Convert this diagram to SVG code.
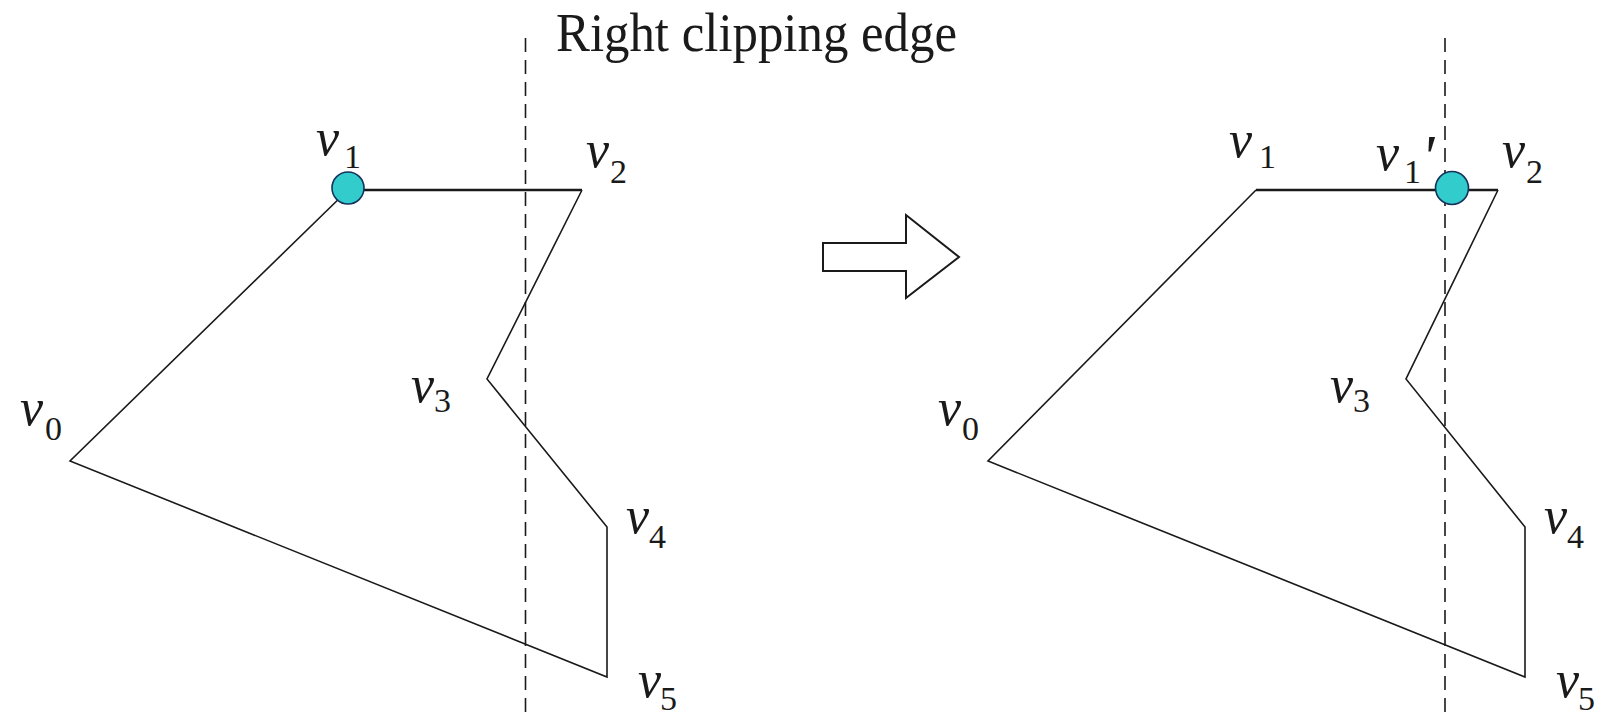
<svg xmlns="http://www.w3.org/2000/svg" width="1610" height="718" viewBox="0 0 1610 718">
<style>
.poly{fill:none;stroke:#1a1a1a;stroke-width:1.6;stroke-linejoin:miter}
.top{fill:none;stroke:#1a1a1a;stroke-width:2.4}
.clip{fill:none;stroke:#1a1a1a;stroke-width:1.6;stroke-dasharray:14 8}
.pt{fill:#33CCCC;stroke:#16325C;stroke-width:1.6}
.v{font-family:"Liberation Serif","Times New Roman",serif;font-style:italic;font-size:52px;fill:#1a1a1a}
.s{font-family:"Liberation Serif","Times New Roman",serif;font-style:normal;font-size:34px;fill:#1a1a1a}
.p{font-family:"Liberation Serif","Times New Roman",serif;font-style:italic;font-size:62px;fill:#1a1a1a}
.title{font-family:"Liberation Serif","Times New Roman",serif;font-size:55px;fill:#1a1a1a}
</style>
<rect width="1610" height="718" fill="#ffffff"/>
<g id="title">
<text class="title" x="556" y="51" textLength="401" lengthAdjust="spacingAndGlyphs">Right clipping edge</text>
</g>
<g id="left-figure">
<path class="poly" d="M348,190 L70,461 L607,677 L607,527 L487,379 L582,190"/>
<line class="top" x1="348" y1="190" x2="582" y2="190"/>
<line class="clip" x1="525.5" y1="38" x2="525.5" y2="718"/>
<circle id="left-v1-point" class="pt" cx="348" cy="188" r="16"/>
<text class="v" x="20" y="425">v<tspan class="s" x="45" y="440">0</tspan></text>
<text class="v" x="316" y="155">v<tspan class="s" x="344" y="168">1</tspan></text>
<text class="v" x="586" y="167">v<tspan class="s" x="610" y="183">2</tspan></text>
<text class="v" x="411" y="402">v<tspan class="s" x="434" y="412">3</tspan></text>
<text class="v" x="626" y="533">v<tspan class="s" x="649" y="548">4</tspan></text>
<text class="v" x="638" y="697">v<tspan class="s" x="660" y="710">5</tspan></text>
</g>
<g id="arrow">
<path d="M823,243 L906,243 L906,215 L959,257 L906,298 L906,271 L823,271 Z" fill="#ffffff" stroke="#1a1a1a" stroke-width="2"/>
</g>
<g id="right-figure">
<path class="poly" d="M1256,190 L988,461 L1525,677 L1525,527 L1406,379 L1498,190"/>
<line class="top" x1="1256" y1="190" x2="1498" y2="190"/>
<line class="clip" x1="1445" y1="38" x2="1445" y2="718"/>
<circle id="right-v1p-point" class="pt" cx="1452" cy="188" r="16.5"/>
<text class="v" x="938" y="425">v<tspan class="s" x="962" y="440">0</tspan></text>
<text class="v" x="1229" y="157">v<tspan class="s" x="1259" y="168">1</tspan></text>
<text class="v" x="1376" y="170">v<tspan class="s" x="1404" y="183">1</tspan><tspan class="p" x="1421" y="177">'</tspan></text>
<text class="v" x="1502" y="167">v<tspan class="s" x="1526" y="183">2</tspan></text>
<text class="v" x="1330" y="402">v<tspan class="s" x="1353" y="412">3</tspan></text>
<text class="v" x="1544" y="533">v<tspan class="s" x="1567" y="548">4</tspan></text>
<text class="v" x="1556" y="697">v<tspan class="s" x="1578" y="710">5</tspan></text>
</g>
</svg>
